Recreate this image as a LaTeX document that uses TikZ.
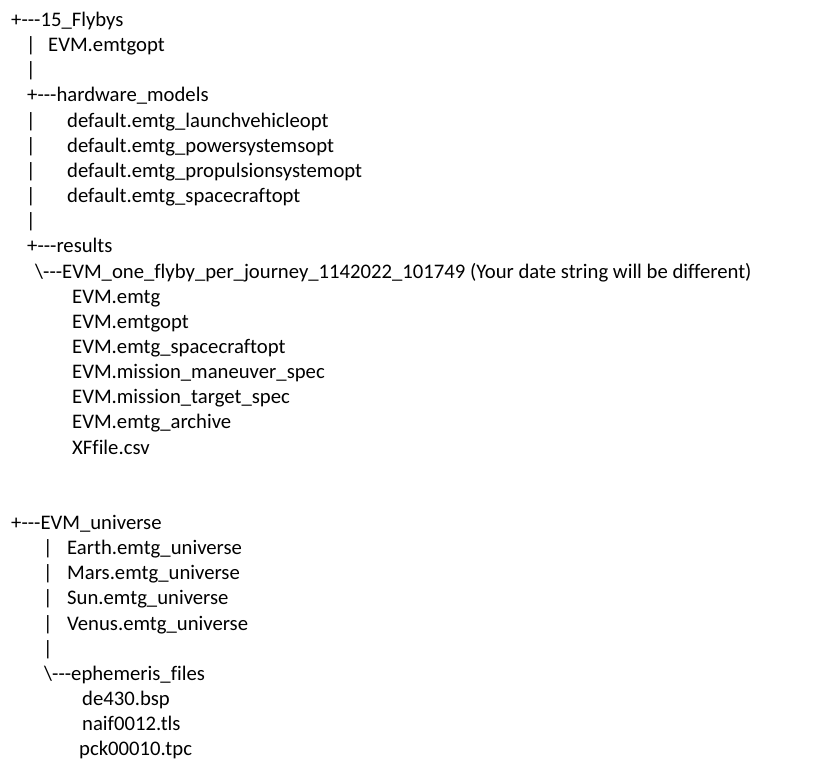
\documentclass[tikz,border=0pt]{standalone}
\usepackage{fontspec}
\newfontfamily\treefont[Ligatures=NoCommon]{Carlito}

\begin{document}
\begin{tikzpicture}[x=1pt, y=-25.15pt]
  % style of one line of the listing
  \tikzset{entry/.style={anchor=base west, inner sep=0pt, font=\treefont\fontsize{20.7}{25}\selectfont}}
  % page frame
  \fill[white] (0pt,0pt) rectangle (824pt,-774pt);
  \useasboundingbox (0pt,0pt) rectangle (824pt,-774pt);

  \begin{scope}[yshift=-26.5pt]
  % The 15_Flybys folder
  \node[entry] (flybys) at (11,0) {+---15\_Flybys};
  \foreach \r in {1,2,4,5,6,7,8}
    \node[entry] (bar\r) at (26,\r) {|};
  \node[entry] (evmopt) at (48,1) {EVM.emtgopt};

  % hardware models
  \node[entry] (hardware) at (27,3) {+---hardware\_models};
  \node[entry] (launch) at (67,4) {default.emtg\_launchvehicleopt};
  \node[entry] (power) at (67,5) {default.emtg\_powersystemsopt};
  \node[entry] (propulsion) at (67,6) {default.emtg\_propulsionsystemopt};
  \node[entry] (craft) at (67,7) {default.emtg\_spacecraftopt};

  % results
  \node[entry] (results) at (27,9) {+---results};
  \node[entry] (run) at (35,10) {\textbackslash---EVM\_one\_flyby\_per\_journey\_1142022\_101749 (Your date string will be different)};
  \node[entry] (emtg) at (72,11) {EVM.emtg};
  \node[entry] (runopt) at (72,12) {EVM.emtgopt};
  \node[entry] (runcraft) at (72,13) {EVM.emtg\_spacecraftopt};
  \node[entry] (maneuver) at (72,14) {EVM.mission\_maneuver\_spec};
  \node[entry] (target) at (72,15) {EVM.mission\_target\_spec};
  \node[entry] (archive) at (72,16) {EVM.emtg\_archive};
  \node[entry] (xf) at (72,17) {XFfile.csv};

  % The EVM_universe folder
  \node[entry] (universe) at (11,20) {+---EVM\_universe};
  \foreach \r in {21,...,25}
    \node[entry] (ubar\r) at (43,\r) {|};
  \node[entry] (earth) at (67,21) {Earth.emtg\_universe};
  \node[entry] (mars) at (67,22) {Mars.emtg\_universe};
  \node[entry] (sun) at (67,23) {Sun.emtg\_universe};
  \node[entry] (venus) at (67,24) {Venus.emtg\_universe};

  % ephemeris files
  \node[entry] (ephem) at (44,26) {\textbackslash---ephemeris\_files};
  \node[entry] (de) at (82,27) {de430.bsp};
  \node[entry] (naif) at (82,28) {naif0012.tls};
  \node[entry] (pck) at (79,29) {pck00010.tpc};
  \end{scope}
\end{tikzpicture}
\end{document}
